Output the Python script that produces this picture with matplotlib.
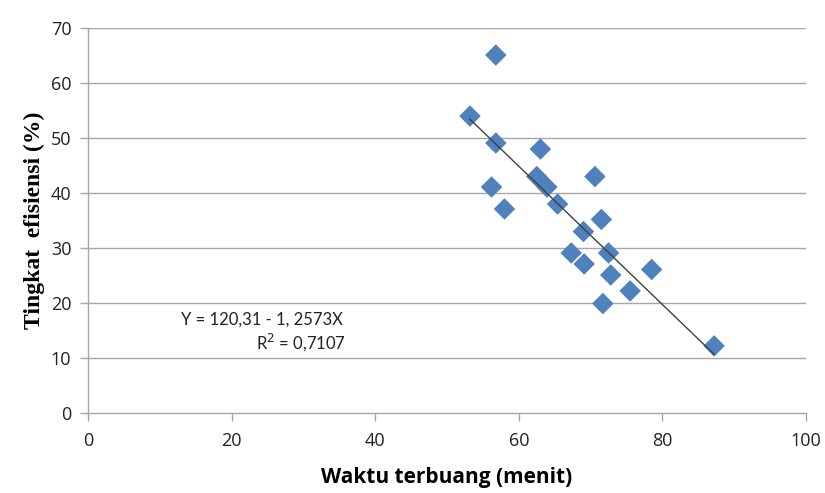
import matplotlib
matplotlib.use("Agg")
import matplotlib.pyplot as plt
import numpy as np

waktu = [56.8, 53.2, 56.8, 63.0, 62.5, 63.9, 70.6, 56.2, 58.0, 65.4,
         71.5, 69.0, 67.3, 72.5, 69.1, 72.8, 78.5, 75.5, 71.7, 87.2]
efisiensi = [65.1, 54.0, 49.1, 48.0, 43.0, 41.1, 43.0, 41.1, 37.1, 38.0,
             35.2, 33.0, 29.1, 29.1, 27.1, 25.1, 26.1, 22.2, 19.9, 12.2]
intercept = 120.31
slope = -1.2573
x_ticks = [0, 20, 40, 60, 80, 100]
y_ticks = [0, 10, 20, 30, 40, 50, 60, 70]

fig = plt.figure(figsize=(8.25, 4.93), dpi=100)
ax = fig.add_axes([0.1067, 0.1623, 0.8703, 0.7807])

grid_c = "#A6A6A6"
for yv in y_ticks[1:]:
    ax.axhline(yv, color=grid_c, lw=1.0, zorder=0)

ax.scatter(waktu, efisiensi, marker="D", s=120, color="#4F81BD",
           edgecolors="none", zorder=3)

xl = np.array([min(waktu), max(waktu)])
ax.plot(xl, intercept + slope * xl, color="#404040", lw=1.0, zorder=4)

ax.set_xlim(0, 100)
ax.set_ylim(0, 70)
ax.set_xticks(x_ticks)
ax.set_yticks(y_ticks)
for s in ["top", "right"]:
    ax.spines[s].set_visible(False)
for s in ["left", "bottom"]:
    ax.spines[s].set_color(grid_c)
    ax.spines[s].set_linewidth(1.0)
ax.tick_params(axis="both", color=grid_c, length=6, width=1.0,
               labelsize=13, labelcolor="#222222")
ax.tick_params(axis="x", pad=8)
ax.tick_params(axis="y", pad=6)
for lab in ax.get_xticklabels() + ax.get_yticklabels():
    lab.set_fontfamily("Open Sans")

ax.set_xlabel("Waktu terbuang (menit)", fontsize=15, fontweight="bold",
              fontfamily="Open Sans", labelpad=12)
ax.set_ylabel("Tingkat  efisiensi (%)", fontsize=17, fontweight="bold",
              fontfamily="Liberation Serif", labelpad=4)

ax.text(24.2, 16.9, "Y = 120,31 - 1, 2573X", ha="center", va="center",
        fontsize=12, fontfamily="Lato", color="#222222")
ax.text(29.7, 12.9, "R$^2$ = 0,7107", ha="center", va="center",
        fontsize=12, fontfamily="Lato", color="#222222")

fig.savefig("out.png", dpi=100)
